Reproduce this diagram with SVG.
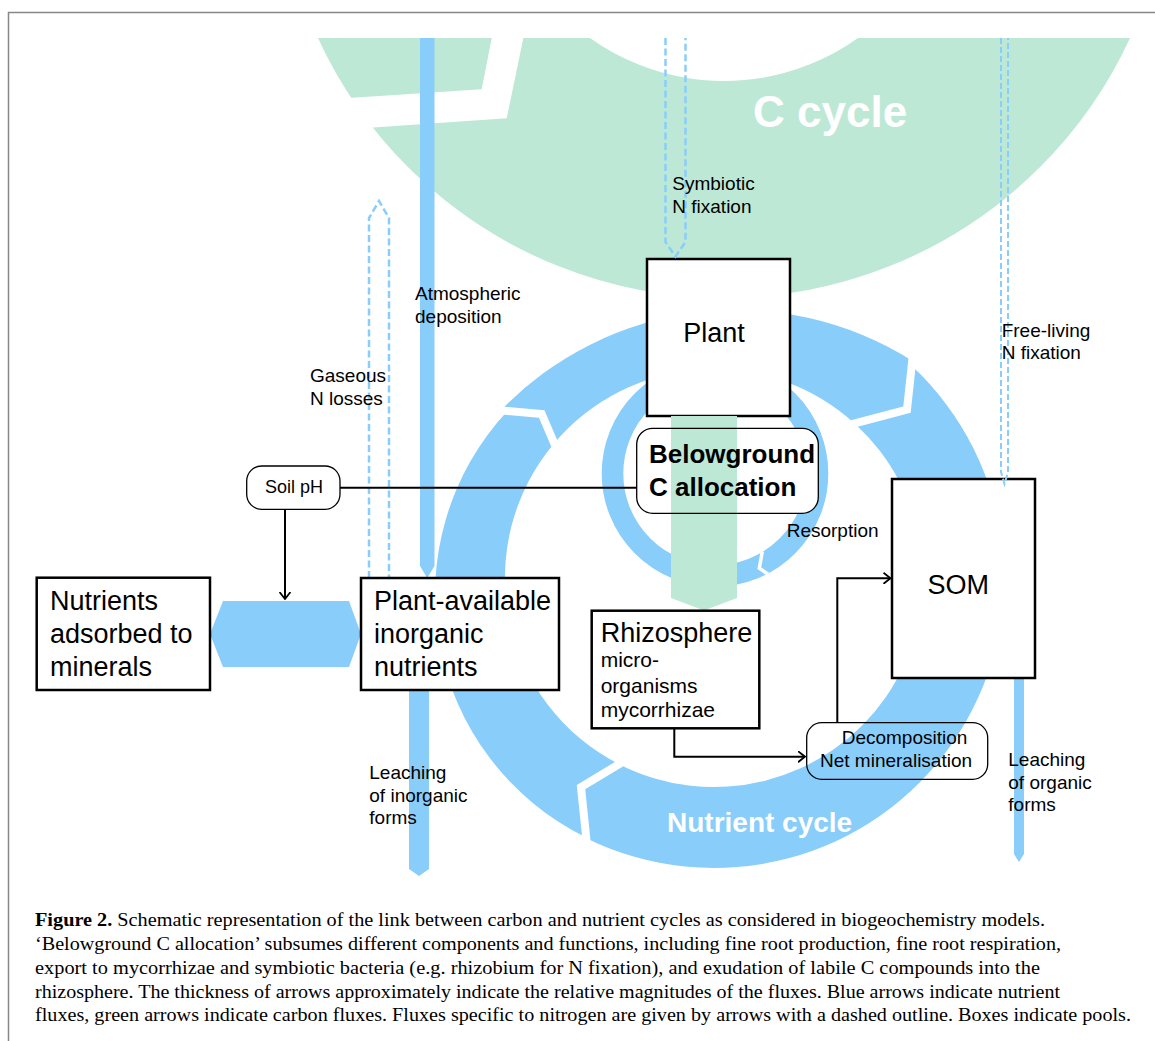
<svg xmlns="http://www.w3.org/2000/svg" width="1155" height="1041" viewBox="0 0 1155 1041">
<style>
.lbl{font-family:"Liberation Sans",Arial,Helvetica,sans-serif;font-size:19px;fill:#000}
.big{font-size:27px}
.mid{font-size:21px}
.bg{font-size:26px;font-weight:bold}
.ph{font-size:18px}
.cc{font-size:44px;font-weight:bold;fill:#fff}
.nc{font-size:28px;font-weight:bold;fill:#fff}
.box{fill:#fff;stroke:#000;stroke-width:2.5}
.rbox{stroke:#000;stroke-width:1.3}
.blue{fill:#89cdfb}
.green{fill:#bee8d6}
.dash{fill:none;stroke:#89cdfb;stroke-width:2.5;stroke-dasharray:7 3.5}
.dash2{fill:none;stroke:#89cdfb;stroke-width:2;stroke-dasharray:6 3}
.gap{fill:none;stroke:#fff;stroke-linejoin:miter}
.conn{fill:none;stroke:#000;stroke-width:2}
.cap{font-family:"Liberation Serif","Times New Roman",Times,serif;font-size:19.5px;fill:#000}
</style>
<defs>
<clipPath id="clipTop"><rect x="0" y="38" width="1155" height="1003"/></clipPath>
<marker id="arr" viewBox="0 0 8 12" refX="7.5" refY="6" markerWidth="8" markerHeight="12" markerUnits="userSpaceOnUse" orient="auto">
<path d="M0.5,0.5 L7.5,6 L0.5,11.5" fill="none" stroke="#000" stroke-width="1.8"/>
</marker>
</defs>
<rect width="1155" height="1041" fill="#fff"/>
<path d="M8.5,1045 V12.5 H1160" fill="none" stroke="#888" stroke-width="1.5"/>

<g id="c-cycle" clip-path="url(#clipTop)">
<circle cx="724" cy="-149" r="338.5" fill="none" stroke="#bee8d6" stroke-width="217"/>
<polygon points="493.3,30 481.7,89.3 330,99.3 330,130.5 506.7,118.3 525,30" fill="#fff"/>
<text class="lbl cc" x="753" y="127">C cycle</text>
</g>

<g id="nutrient-cycle">
<path class="blue" d="M586.1,837.4 A270,270 0 0 1 507.4,411 L541.7,414 L554.2,443.2 A209,209 0 0 0 619,764.2 L581,787 Z"/>
<path class="blue" d="M500.8,410.4 A328,328 0 0 1 912.2,360.7 L907,409.5 L854.6,423.4 A209,209 0 0 0 554.2,443.2 L541.7,414 Z"/>
<path class="blue" d="M911.7,365.8 A290,290 0 0 1 586.2,838.3 L581,787 L619,764.2 A209,209 0 0 0 854.6,423.4 L907,409.5 Z"/>
<path class="gap" stroke-width="8" d="M497.2,410.1 L541.7,414 L556.3,448.1"/>
<path class="gap" stroke-width="8" d="M913,353.7 L907,409.5 L848.2,425.1"/>
<path class="gap" stroke-width="8" d="M586.8,843.4 L581,787 L625,760.6"/>
<text class="lbl nc" x="667" y="832">Nutrient cycle</text>
</g>

<g id="resorption-cycle">
<circle cx="715" cy="473.4" r="102.5" fill="none" stroke="#89cdfb" stroke-width="21.6"/>
<path class="gap" stroke-width="3.5" d="M762.3,551.5 L759.3,568.3 L771,576.2"/>
</g>

<g id="fluxes">
<polygon class="blue" points="420,38 434.5,38 434.5,566 427.2,578 420,566"/>
<polygon class="blue" points="409,690 429,690 429,869 419,876 409,869"/>
<polygon class="blue" points="1014,678 1024,678 1024,854 1019,862 1014,854"/>
<polygon class="blue" points="210,634 223,601 349,601 361,634 349,667 223,667"/>
<path class="dash" d="M369,578 V218 L379,201 L389,218 V578"/>
</g>

<g id="plant">
<rect class="box" x="647" y="259" width="143" height="157"/>
<text class="lbl big" x="714" y="342" text-anchor="middle">Plant</text>
</g>

<g id="belowground">
<rect x="636.7" y="428.3" width="181.6" height="85" rx="16" fill="#fff"/>
<polygon class="green" points="671,416 737,416 737,598 704,610.5 671,598"/>
<rect class="rbox" x="636.7" y="428.3" width="181.6" height="85" rx="16" fill="none"/>
<text class="lbl bg" x="649" y="463">Belowground</text>
<text class="lbl bg" x="649" y="496">C allocation</text>
</g>

<g id="rhizosphere">
<rect class="box" x="591.7" y="610.7" width="167.6" height="117.6"/>
<text class="lbl big" x="600.7" y="641.7">Rhizosphere</text>
<text class="lbl mid" x="600.7" y="667.3">micro-</text>
<text class="lbl mid" x="600.7" y="692.7">organisms</text>
<text class="lbl mid" x="600.7" y="716.7">mycorrhizae</text>
</g>

<g id="som">
<rect class="box" x="892" y="479" width="143" height="199"/>
<text class="lbl big" x="958.3" y="594" text-anchor="middle">SOM</text>
</g>

<g id="plant-available">
<rect class="box" x="361" y="578" width="198" height="112"/>
<text class="lbl big" x="374" y="610">Plant-available</text>
<text class="lbl big" x="374" y="643">inorganic</text>
<text class="lbl big" x="374" y="676">nutrients</text>
</g>

<g id="adsorbed">
<rect class="box" x="36.7" y="577.7" width="173.3" height="112.3"/>
<text class="lbl big" x="50" y="610">Nutrients</text>
<text class="lbl big" x="50" y="643">adsorbed to</text>
<text class="lbl big" x="50" y="676">minerals</text>
</g>

<g id="soil-ph">
<rect class="rbox" x="246.7" y="466" width="93.3" height="43.3" rx="15" fill="#fff"/>
<text class="lbl ph" x="265" y="493.3">Soil pH</text>
</g>

<g id="decomposition">
<rect class="rbox" x="806.7" y="722.7" width="181" height="56.6" rx="15" fill="none"/>
<text class="lbl" x="841.7" y="744.3">Decomposition</text>
<text class="lbl" x="820" y="767.3">Net mineralisation</text>
</g>

<g id="n-fixation-arrows">
<path class="dash" d="M665.5,38 V242 L675.5,256.5 L685.5,242 V38"/>
<path class="dash2" d="M1001,38 V472 L1004.5,484 L1008,472 V38"/>
</g>

<g id="connectors">
<path class="conn" d="M340,487.7 H636.7"/>
<path class="conn" d="M285,509.3 V599" marker-end="url(#arr)"/>
<path class="conn" d="M674.3,728.3 V756.7 H805" marker-end="url(#arr)"/>
<path class="conn" d="M837.3,722.7 V578.3 H890.5" marker-end="url(#arr)"/>
</g>

<g id="labels">
<text class="lbl" x="672.3" y="190">Symbiotic</text>
<text class="lbl" x="672.3" y="212.7">N fixation</text>
<text class="lbl" x="415" y="300">Atmospheric</text>
<text class="lbl" x="415" y="322.7">deposition</text>
<text class="lbl" x="310" y="382">Gaseous</text>
<text class="lbl" x="310" y="404.5">N losses</text>
<text class="lbl" x="1001.7" y="337">Free-living</text>
<text class="lbl" x="1001.7" y="359">N fixation</text>
<text class="lbl" x="786.7" y="536.7">Resorption</text>
<text class="lbl" x="369.3" y="779.3">Leaching</text>
<text class="lbl" x="369.3" y="801.7">of inorganic</text>
<text class="lbl" x="369.3" y="824.3">forms</text>
<text class="lbl" x="1008.3" y="766">Leaching</text>
<text class="lbl" x="1008.3" y="789">of organic</text>
<text class="lbl" x="1008.3" y="811">forms</text>
</g>

<g id="caption">
<text class="cap" x="35" y="926" textLength="1010" lengthAdjust="spacingAndGlyphs"><tspan font-weight="bold">Figure 2.</tspan> Schematic representation of the link between carbon and nutrient cycles as considered in biogeochemistry models.</text>
<text class="cap" x="35" y="950" textLength="1026" lengthAdjust="spacingAndGlyphs">‘Belowground C allocation’ subsumes different components and functions, including fine root production, fine root respiration,</text>
<text class="cap" x="35" y="974" textLength="1005" lengthAdjust="spacingAndGlyphs">export to mycorrhizae and symbiotic bacteria (e.g. rhizobium for N fixation), and exudation of labile C compounds into the</text>
<text class="cap" x="35" y="997.5" textLength="1025" lengthAdjust="spacingAndGlyphs">rhizosphere. The thickness of arrows approximately indicate the relative magnitudes of the fluxes. Blue arrows indicate nutrient</text>
<text class="cap" x="35" y="1021" textLength="1096" lengthAdjust="spacingAndGlyphs">fluxes, green arrows indicate carbon fluxes. Fluxes specific to nitrogen are given by arrows with a dashed outline. Boxes indicate pools.</text>
</g>
</svg>
